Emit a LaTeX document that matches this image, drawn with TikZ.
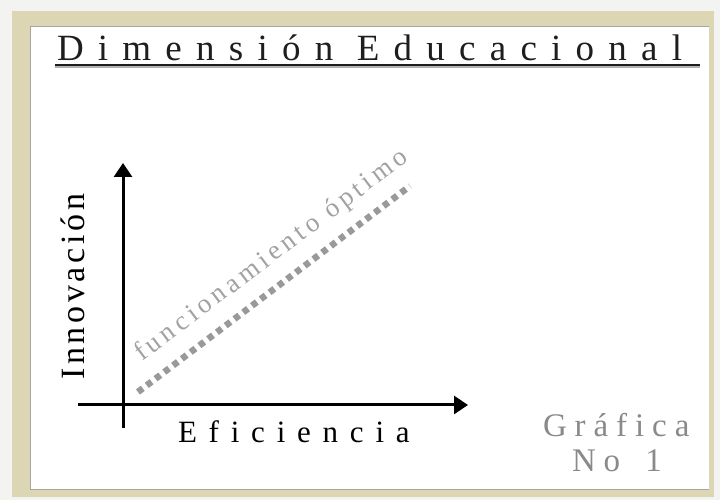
\documentclass[tikz,border=0pt]{standalone}
\usepackage{fontspec}
\setmainfont{Liberation Serif}
\usetikzlibrary{arrows.meta}
\definecolor{beige}{HTML}{DCD6B4}
\definecolor{outerbg}{HTML}{F3F3F1}
\definecolor{dotgrey}{HTML}{999999}
\definecolor{labgrey}{HTML}{A2A2A2}
\definecolor{numgrey}{HTML}{8A8A8A}
\definecolor{inkdark}{HTML}{1E1E1E}
\tikzset{
  txt/.style={inner sep=0pt, outer sep=0pt, anchor=base west},
  axis/.style={line width=3pt, black, -{Triangle[width=18pt,length=14pt]}},
  optline/.style={line width=6.5pt, dotgrey, dash pattern=on 6pt off 5pt},
}
\begin{document}
\begin{tikzpicture}[x=1pt,y=1pt]
\useasboundingbox (0,0) rectangle (720,500);
% background and frame
\fill[outerbg] (0,0) rectangle (720,500);
\fill[beige] (12,3) rectangle (714,489);
\fill[black!35] (30,10) rectangle (709,474);
\fill[white] (31,11) rectangle (709,473);
% title
\node[txt, font=\fontsize{37}{39}\selectfont\addfontfeature{LetterSpace=38.5}, text=inkdark] (title) at (57,439) {Dimensión Educacional};
\coordinate (ul1) at (55,435);
\coordinate (ul2) at (700,435);
\draw[black!30, line width=1.5pt] ([yshift=-2pt]ul1) -- ([yshift=-2pt]ul2);
\draw[inkdark, line width=1.8pt] (ul1) -- (ul2);
% axes
\coordinate (ybot) at (123,72);
\coordinate (ytop) at (123,337);
\coordinate (xleft) at (78,95);
\coordinate (xright) at (468,95);
\draw[axis] (ybot) -- (ytop);
\draw[axis] (xleft) -- (xright);
% optimal line
\coordinate (ls) at (138,108);
\coordinate (le) at (410,314);
\draw[optline] (ls) -- (le);
\node[txt, rotate=37, font=\fontsize{27}{29}\selectfont\addfontfeature{LetterSpace=16}, text=labgrey] (opt) at (142,138) {funcionamiento óptimo};
% axis labels
\node[txt, rotate=90, font=\fontsize{34}{36}\selectfont\addfontfeature{LetterSpace=11}, text=black] (innov) at (84,120) {Innovación};
\node[txt, font=\fontsize{31}{33}\selectfont\addfontfeature{LetterSpace=38}, text=black] (efic) at (178,57) {Eficiencia};
% graph number
\node[txt, font=\fontsize{33}{35}\selectfont\addfontfeature{LetterSpace=24}, text=numgrey] (graf) at (543,63) {Gráfica};
\node[txt, font=\fontsize{33}{35}\selectfont\addfontfeature{LetterSpace=24}, text=numgrey] (num) at (572,28) {No\hspace{9pt} 1};
\end{tikzpicture}
\end{document}
